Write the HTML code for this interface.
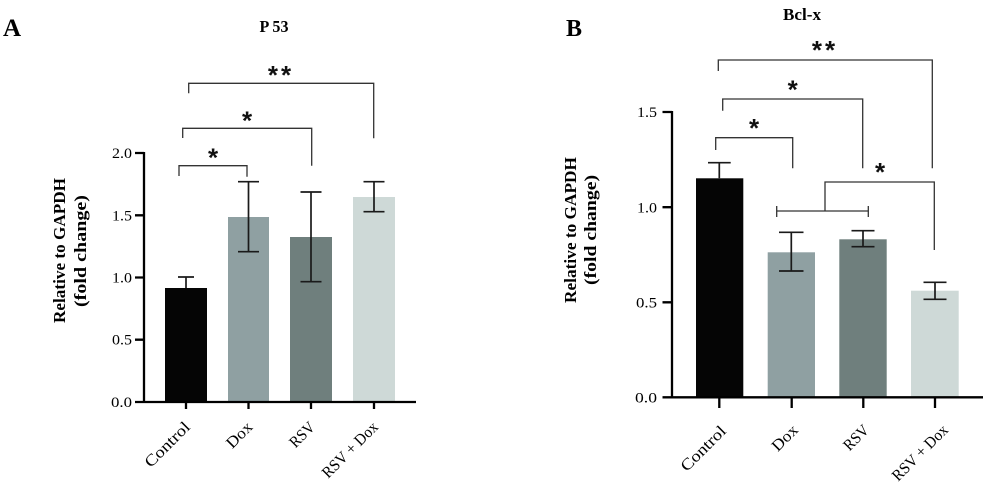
<!DOCTYPE html>
<html>
<head>
<meta charset="utf-8">
<style>
  html,body{margin:0;padding:0;background:#fff;}
  svg{display:block;}
  .serif{font-family:"Liberation Serif",serif;}
  .bold{font-weight:bold;}
  .star{font-family:"Liberation Sans",sans-serif;font-weight:bold;font-size:26px;}
</style>
</head>
<body>
<svg width="1000" height="488" viewBox="0 0 1000 488" xmlns="http://www.w3.org/2000/svg">
  <rect x="0" y="0" width="1000" height="488" fill="#fff"/>

  <!-- ================= PANEL A ================= -->
  <text x="3" y="36" class="serif bold" font-size="25">A</text>
  <text x="274" y="32" class="serif bold" font-size="17" text-anchor="middle" textLength="29" lengthAdjust="spacingAndGlyphs">P 53</text>

  <!-- y label -->
  <text class="serif bold" font-size="17" text-anchor="middle" textLength="145" lengthAdjust="spacingAndGlyphs" transform="translate(65,250.5) rotate(-90)">Relative to GAPDH</text>
  <text class="serif bold" font-size="17" text-anchor="middle" textLength="112" lengthAdjust="spacingAndGlyphs" transform="translate(86,251) rotate(-90)">(fold change)</text>

  <!-- bars -->
  <rect x="165" y="288" width="42" height="114" fill="#050505"/>
  <rect x="228" y="217" width="41" height="185" fill="#8fa0a2"/>
  <rect x="290" y="237" width="42" height="165" fill="#6f7f7d"/>
  <rect x="353" y="197" width="42" height="205" fill="#ced9d7"/>

  <!-- error bars -->
  <g stroke="#1a1a1a" stroke-width="1.7" fill="none">
    <path d="M186,288 V277 M178,277 H194"/>
    <path d="M248.5,181.7 V251.7 M238,181.7 H259 M238,251.7 H259"/>
    <path d="M311,192 V281.7 M300.5,192 H321.5 M300.5,281.7 H321.5"/>
    <path d="M374,181.7 V211.7 M363.5,181.7 H384.5 M363.5,211.7 H384.5"/>
  </g>

  <!-- axes -->
  <g stroke="#000" stroke-width="2.3" fill="none">
    <path d="M144,152 V402"/>
    <path d="M135,402 H416"/>
    <path d="M135,153 H144 M135,215.3 H144 M135,277.5 H144 M135,339.7 H144"/>
    <path d="M186,402 V409 M248.5,402 V409 M311,402 V409 M374,402 V409"/>
  </g>

  <!-- y tick labels -->
  <g class="serif" font-size="15" text-anchor="end">
    <text x="132" y="158" textLength="20" lengthAdjust="spacingAndGlyphs">2.0</text>
    <text x="132" y="220.3" textLength="20" lengthAdjust="spacingAndGlyphs">1.5</text>
    <text x="132" y="282.5" textLength="20" lengthAdjust="spacingAndGlyphs">1.0</text>
    <text x="132" y="344.7" textLength="20" lengthAdjust="spacingAndGlyphs">0.5</text>
    <text x="132" y="407" textLength="21" lengthAdjust="spacingAndGlyphs">0.0</text>
  </g>

  <!-- x labels -->
  <g class="serif" font-size="16" text-anchor="end">
    <text transform="translate(191,428) rotate(-45)" textLength="57" lengthAdjust="spacingAndGlyphs">Control</text>
    <text transform="translate(253.5,428) rotate(-45)" textLength="30" lengthAdjust="spacingAndGlyphs">Dox</text>
    <text transform="translate(316,428) rotate(-45)" textLength="29" lengthAdjust="spacingAndGlyphs">RSV</text>
    <text transform="translate(379,428) rotate(-45)" textLength="72" lengthAdjust="spacingAndGlyphs">RSV + Dox</text>
  </g>

  <!-- significance brackets -->
  <g stroke="#333" stroke-width="1.3" fill="none">
    <path d="M179,176 V165.7 H247 V176.7"/>
    <path d="M182.7,138 V128.3 H311.7 V165.7"/>
    <path d="M188.7,93.3 V83.3 H373.7 V138.3"/>
  </g>
  <g class="star" text-anchor="middle" fill="#111">
    <text x="213" y="166.5">*</text>
    <text x="247" y="129.5">*</text>
    <text x="281" y="84" letter-spacing="3">**</text>
  </g>

  <!-- ================= PANEL B ================= -->
  <text x="566" y="36" class="serif bold" font-size="24">B</text>
  <text x="802" y="20" class="serif bold" font-size="17" text-anchor="middle" textLength="38" lengthAdjust="spacingAndGlyphs">Bcl-x</text>

  <!-- y label -->
  <text class="serif bold" font-size="17" text-anchor="middle" textLength="146" lengthAdjust="spacingAndGlyphs" transform="translate(576,230) rotate(-90)">Relative to GAPDH</text>
  <text class="serif bold" font-size="17" text-anchor="middle" textLength="110" lengthAdjust="spacingAndGlyphs" transform="translate(596,230) rotate(-90)">(fold change)</text>

  <!-- bars -->
  <rect x="696" y="178.3" width="47.3" height="219" fill="#050505"/>
  <rect x="767.7" y="252.3" width="47.3" height="145" fill="#8fa0a2"/>
  <rect x="839.3" y="239.3" width="47.4" height="158" fill="#6f7f7d"/>
  <rect x="911" y="290.7" width="47.7" height="106.6" fill="#ced9d7"/>

  <!-- error bars -->
  <g stroke="#1a1a1a" stroke-width="1.7" fill="none">
    <path d="M719.3,178.3 V162.7 M708,162.7 H730.7"/>
    <path d="M791.3,232.3 V271 M779,232.3 H803.5 M779,271 H803.5"/>
    <path d="M863,230.7 V246.7 M851.5,230.7 H874.5 M851.5,246.7 H874.5"/>
    <path d="M935,282.3 V299.3 M923.5,282.3 H946.5 M923.5,299.3 H946.5"/>
  </g>

  <!-- axes -->
  <g stroke="#000" stroke-width="2.3" fill="none">
    <path d="M672,111 V397.3"/>
    <path d="M662.5,397.3 H983"/>
    <path d="M662.5,112 H672 M662.5,207.2 H672 M662.5,302.3 H672"/>
    <path d="M719.3,397.3 V408 M791.7,397.3 V408 M863.3,397.3 V408 M935,397.3 V408"/>
  </g>

  <!-- y tick labels -->
  <g class="serif" font-size="15" text-anchor="end">
    <text x="657" y="117.2" textLength="20" lengthAdjust="spacingAndGlyphs">1.5</text>
    <text x="657" y="212.4" textLength="20" lengthAdjust="spacingAndGlyphs">1.0</text>
    <text x="657" y="307.5" textLength="21" lengthAdjust="spacingAndGlyphs">0.5</text>
    <text x="657" y="402.5" textLength="22" lengthAdjust="spacingAndGlyphs">0.0</text>
  </g>

  <!-- x labels -->
  <g class="serif" font-size="16" text-anchor="end">
    <text transform="translate(727,432) rotate(-45)" textLength="57" lengthAdjust="spacingAndGlyphs">Control</text>
    <text transform="translate(799,431) rotate(-45)" textLength="30" lengthAdjust="spacingAndGlyphs">Dox</text>
    <text transform="translate(870,431) rotate(-45)" textLength="29" lengthAdjust="spacingAndGlyphs">RSV</text>
    <text transform="translate(949,431) rotate(-45)" textLength="72" lengthAdjust="spacingAndGlyphs">RSV + Dox</text>
  </g>

  <!-- significance brackets -->
  <g stroke="#333" stroke-width="1.3" fill="none">
    <path d="M715.7,150 V137.7 H792.7 V168.3"/>
    <path d="M722.7,110.7 V99 H862.7 V168.3"/>
    <path d="M718.3,71 V60 H932.3 V168.3"/>
    <path d="M776.7,211 H868.3 M776.7,206 V217 M868.3,206 V217"/>
    <path d="M825,211 V182 H934.3 V250"/>
  </g>
  <g class="star" text-anchor="middle" fill="#111">
    <text x="754" y="137">*</text>
    <text x="792.7" y="98.5">*</text>
    <text x="825" y="59" letter-spacing="3">**</text>
    <text x="880" y="181">*</text>
  </g>
</svg>
</body>
</html>
